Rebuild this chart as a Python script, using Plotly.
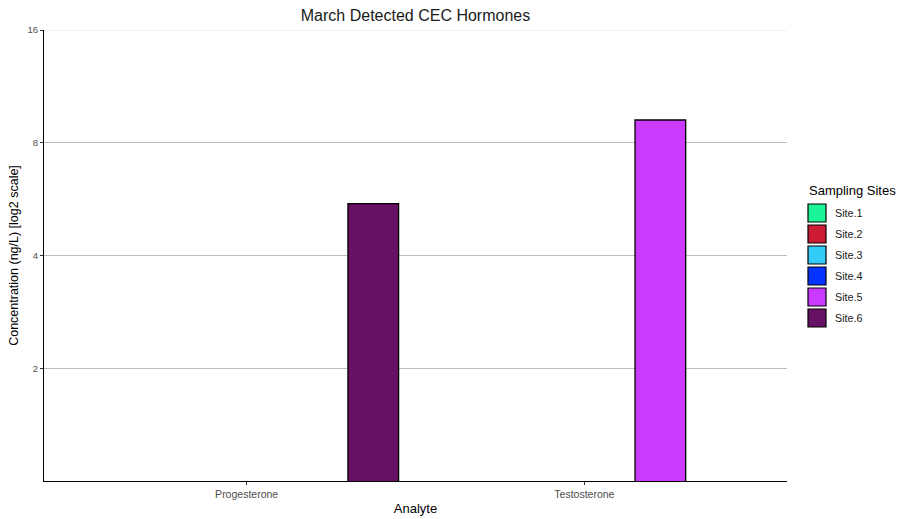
import plotly.graph_objects as go

# Detected hormone concentrations (ng/L) per sampling site, March sampling
analytes = ["Progesterone", "Testosterone"]
sites = ["Site.1", "Site.2", "Site.3", "Site.4", "Site.5", "Site.6"]
site_colors = ["#1AF597", "#CF1C36", "#33CCF8", "#0533FF", "#CA3AFF", "#661163"]
concentration = {
    "Site.1": [None, None],
    "Site.2": [None, None],
    "Site.3": [None, None],
    "Site.4": [None, None],
    "Site.5": [None, 9.2],
    "Site.6": [5.5, None],
}
y_ticks = [2, 4, 8, 16]

W, H = 897, 519
L, R, T, B = 44, 110, 30, 38
plot_w = W - L - R
plot_h = H - T - B


def px_x(px):
    """Pixel column -> paper x."""
    return (px - L) / plot_w


def px_y(py):
    """Pixel row -> paper y."""
    return (H - B - py) / plot_h


fig = go.Figure()
for site, color in zip(sites, site_colors):
    fig.add_trace(go.Bar(
        x=analytes,
        y=concentration[site],
        name=site,
        marker=dict(color=color, line=dict(color="#000000", width=1.3)),
        showlegend=False,
    ))

font_family = "Liberation Sans, Arial, sans-serif"

# Light rule along the top of the panel at the upper limit
shapes = [dict(
    type="line", xref="paper", yref="y",
    x0=0, x1=1, y0=max(y_ticks), y1=max(y_ticks),
    line=dict(color="#E3E3E3", width=1.2), layer="below",
)]

# Legend panel: title plus one keyed swatch per site
annotations = [dict(
    text="Sampling Sites", xref="paper", yref="paper",
    x=px_x(807), y=px_y(190), xanchor="left", yanchor="middle",
    showarrow=False, font=dict(size=13, color="#000000"),
)]
for i, (site, color) in enumerate(zip(sites, site_colors)):
    top = 204 + 21 * i
    shapes.append(dict(
        type="rect", xref="paper", yref="paper",
        x0=px_x(808), x1=px_x(826), y0=px_y(top + 18), y1=px_y(top),
        fillcolor=color, line=dict(color="#000000", width=1.2),
    ))
    annotations.append(dict(
        text=site, xref="paper", yref="paper",
        x=px_x(833), y=px_y(top + 9), xanchor="left", yanchor="middle",
        showarrow=False, font=dict(size=10.8, color="#1a1a1a"),
    ))

fig.update_layout(
    width=W,
    height=H,
    margin=dict(l=L, r=R, t=T, b=B, autoexpand=False),
    paper_bgcolor="white",
    plot_bgcolor="white",
    barmode="group",
    bargap=0.1,
    bargroupgap=0,
    font=dict(family=font_family, color="#000000"),
    title=dict(
        text="March Detected CEC Hormones",
        x=(L + W - R) / 2 / W,
        xanchor="center",
        y=1 - 15 / H,
        yanchor="middle",
        font=dict(size=16, color="#1a1a1a"),
    ),
    shapes=shapes,
    annotations=annotations,
    showlegend=False,
)

fig.update_xaxes(
    type="category",
    range=[-0.6, 1.6],
    automargin=False,
    showline=True,
    linecolor="#000000",
    linewidth=1.2,
    ticks="outside",
    ticklen=3,
    tickcolor="#333333",
    tickfont=dict(size=10.5, color="#4d4d4d"),
    showgrid=False,
    title=dict(text="Analyte", font=dict(size=13, color="#000000"), standoff=5),
)

fig.update_yaxes(
    type="log",
    range=[0, 1.2041199826559248],
    automargin=False,
    tickvals=y_ticks,
    ticktext=[str(v) for v in y_ticks],
    showline=True,
    linecolor="#000000",
    linewidth=1.2,
    ticks="outside",
    ticklen=3,
    tickcolor="#333333",
    tickfont=dict(size=9.5, color="#4d4d4d"),
    showgrid=True,
    gridcolor="#BEBEBE",
    gridwidth=1,
    zeroline=False,
    title=dict(text="Concentration (ng/L) [log2 scale]", font=dict(size=12.5, color="#000000"), standoff=6),
)

fig.write_html("out.html")
